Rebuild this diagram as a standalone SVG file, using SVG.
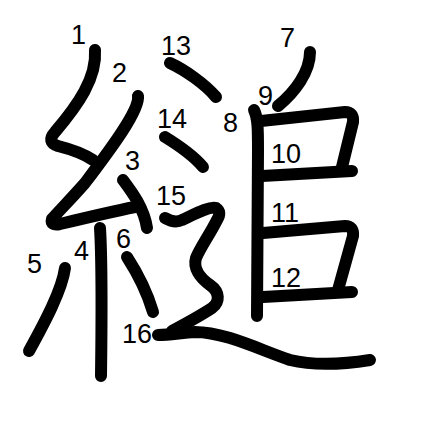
<svg xmlns="http://www.w3.org/2000/svg" width="447" height="447" viewBox="0 0 447 447">
<style>
.s{fill:none;stroke:#000;stroke-width:12;stroke-linecap:round;stroke-linejoin:round}
.n{font-family:"Liberation Sans",Arial,sans-serif;font-size:27px;fill:#000}
</style>
<rect width="447" height="447" fill="#fff"/>
<g id="strokes">
<path id="s1" class="s" d="M95,50 C97,78 78,105 55,132 Q46,142 58,146 C70,149 84,154 93,160"/>
<path id="s2" class="s" d="M138,96 C140,110 110,150 85,183 C70,200 58,212 52,219 Q50,226 60,224 C85,218 110,212 135,207"/>
<path id="s3" class="s" d="M123,180 C132,192 144,208 147,228"/>
<path id="s4" class="s" d="M100,228 C102,260 102,300 101,376"/>
<path id="s5" class="s" d="M65,268 C62,290 45,322 29,351"/>
<path id="s6" class="s" d="M127,257 C138,274 148,295 153,312"/>
<path id="s7" class="s" d="M310,52 C310,72 295,92 278,106"/>
<path id="s8" class="s" d="M254,110 C258,118 258,130 258,150 L257,316"/>
<path id="s9" class="s" d="M261,121 L345,112 Q354,112 353,122 L342,167"/>
<path id="s10" class="s" d="M262,176 L352,171"/>
<path id="s11" class="s" d="M263,233 L345,226 Q354,226 353,236 L338,290"/>
<path id="s12" class="s" d="M263,297 L352,292"/>
<path id="s13" class="s" d="M170,63 C185,70 205,84 216,97"/>
<path id="s14" class="s" d="M165,137 C178,145 193,155 203,167"/>
<path id="s15" class="s" d="M165,218 C172,222 178,222 182,220 C195,214 210,206 216,208 Q222,212 217,220 C210,234 200,248 196,258 C193,268 200,278 210,285 C220,292 220,302 212,308 C200,316 185,324 172,331"/>
<path id="s16" class="s" d="M158,335 C170,335 180,333 195,332 C225,332 260,350 290,360 C315,366 345,364 370,360"/>
</g>
<g id="labels">
<text class="n" x="71" y="44">1</text>
<text class="n" x="112" y="82">2</text>
<text class="n" x="125" y="170">3</text>
<text class="n" x="74" y="260">4</text>
<text class="n" x="27" y="273">5</text>
<text class="n" x="116" y="248">6</text>
<text class="n" x="280" y="47">7</text>
<text class="n" x="223" y="132">8</text>
<text class="n" x="258" y="105">9</text>
<text class="n" x="271" y="163">10</text>
<text class="n" x="271" y="222">11</text>
<text class="n" x="271" y="287">12</text>
<text class="n" x="161" y="55">13</text>
<text class="n" x="157" y="128">14</text>
<text class="n" x="156" y="205">15</text>
<text class="n" x="122" y="343">16</text>
</g>
</svg>
